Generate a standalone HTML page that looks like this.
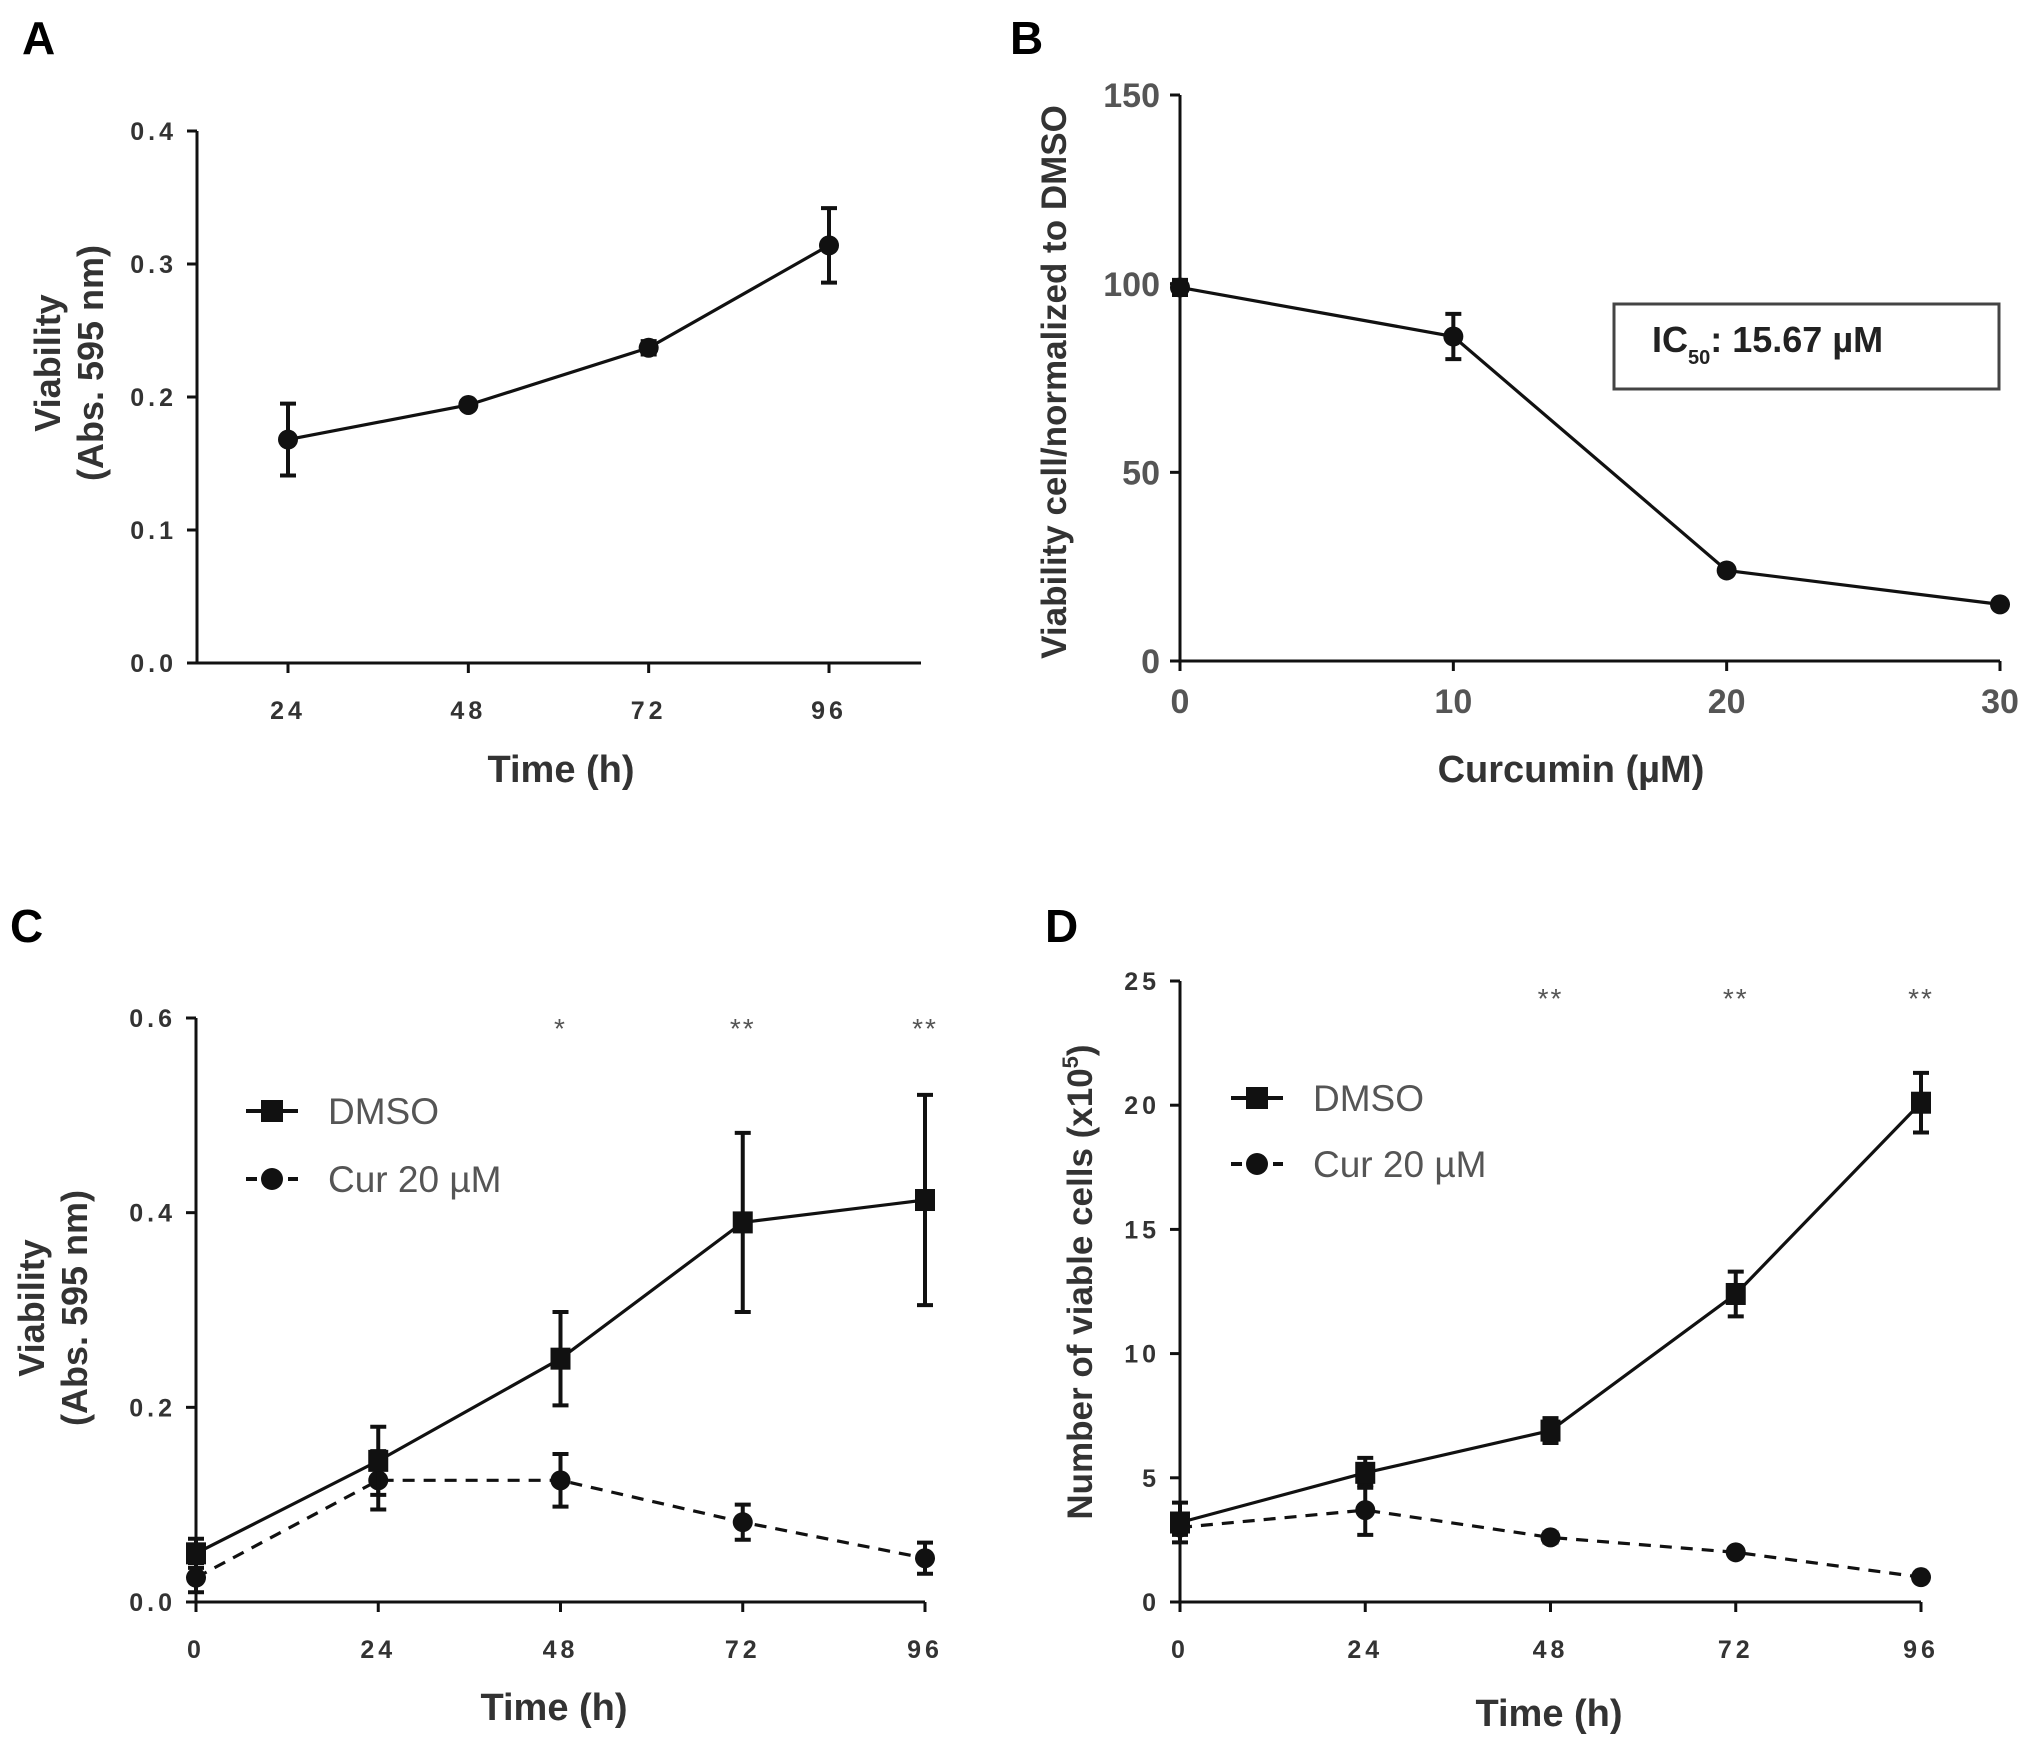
<!DOCTYPE html>
<html><head><meta charset="utf-8"><style>
html,body{margin:0;padding:0;background:#fff;}
svg{display:block;font-family:"Liberation Sans",Arial,sans-serif;}
</style></head><body>
<svg id="fig" width="2031" height="1749" viewBox="0 0 2031 1749" xmlns="http://www.w3.org/2000/svg">
<rect width="2031" height="1749" fill="#fff"/>
<text x="22" y="54" font-size="46" font-weight="bold">A</text>
<text x="1010" y="54" font-size="46" font-weight="bold">B</text>
<text x="10" y="942" font-size="46" font-weight="bold">C</text>
<text x="1045" y="942" font-size="46" font-weight="bold">D</text>
<g id="gA"></g>
<g id="gB"></g>
<g id="gC"></g>
<g id="gD"></g>
</svg>
<script>
// Panel A data
const aX = [24, 48, 72, 96];
const aY = [0.168, 0.194, 0.237, 0.314];
const aErr = [0.027, 0.003, 0.005, 0.028];
const aYTicks = ["0.0", "0.1", "0.2", "0.3", "0.4"];
const aXTicks = ["24", "48", "72", "96"];
// Panel B data
const bX = [0, 10, 20, 30];
const bY = [99, 86, 24, 15];
const bErr = [2, 6, 1, 1];
const bYTicks = ["0", "50", "100", "150"];
const bXTicks = ["0", "10", "20", "30"];
// Panel C data
const cX = [0, 24, 48, 72, 96];
const cDmso = [0.05, 0.145, 0.25, 0.39, 0.413];
const cDmsoErr = [0.015, 0.035, 0.048, 0.092, 0.108];
const cCur = [0.025, 0.125, 0.125, 0.082, 0.045];
const cCurErr = [0.015, 0.03, 0.027, 0.018, 0.016];
const cYTicks = ["0.0", "0.2", "0.4", "0.6"];
const cXTicks = ["0", "24", "48", "72", "96"];
const cStars = ["", "", "*", "**", "**"];
// Panel D data
const dX = [0, 24, 48, 72, 96];
const dDmso = [3.2, 5.2, 6.9, 12.4, 20.1];
const dDmsoErr = [0.8, 0.6, 0.5, 0.9, 1.2];
const dCur = [3.0, 3.7, 2.6, 2.0, 1.0];
const dCurErr = [0.3, 1.0, 0.2, 0.15, 0.15];
const dYTicks = ["0", "5", "10", "15", "20", "25"];
const dXTicks = ["0", "24", "48", "72", "96"];
const dStars = ["", "", "**", "**", "**"];

const NS = "http://www.w3.org/2000/svg";
function el(parent, tag, attrs, txt){
  const e = document.createElementNS(NS, tag);
  for (const k in attrs) e.setAttribute(k, attrs[k]);
  if (txt !== undefined) e.textContent = txt;
  parent.appendChild(e);
  return e;
}
function scale(d0, d1, r0, r1){ return v => r0 + (v - d0) / (d1 - d0) * (r1 - r0); }

function axes(g, sx, sy, ax, ay0, ay1, axEnd, yTicks, xTicks, tickStyle){
  let a = el(g, "line", {x1: ax, y1: sy(ay1), x2: ax, y2: sy(ay0), stroke: "#111", "stroke-width": 3});
  
  
  a = el(g, "line", {x1: ax - 10, y1: sy(ay0), x2: axEnd, y2: sy(ay0), stroke: "#111", "stroke-width": 3});
  
  
  yTicks.forEach(t => {
    const y = sy(parseFloat(t));
    const tk = el(g, "line", {x1: ax - 10, y1: y, x2: ax, y2: y, stroke: "#111", "stroke-width": 3});
    
    
    const lb = el(g, "text", Object.assign({x: ax - 20, y: y + tickStyle.size * 0.36, "text-anchor": "end"}, tickStyle.attrs), t);
    
    
  });
  xTicks.forEach(t => {
    const x = sx(parseFloat(t));
    const tk = el(g, "line", {x1: x, y1: sy(ay0), x2: x, y2: sy(ay0) + 10, stroke: "#111", "stroke-width": 3});
    
    
    const lb = el(g, "text", Object.assign({x: x, y: sy(ay0) + tickStyle.xoff, "text-anchor": "middle"}, tickStyle.attrs), t);
    
    
  });
}
function series(g, sx, sy, xs, ys, errs, marker, dashed, name){
  const pts = xs.map((x, i) => sx(x) + "," + sy(ys[i])).join(" ");
  const pl = el(g, "polyline", {points: pts, fill: "none", stroke: "#111", "stroke-width": 3.2, "stroke-dasharray": dashed ? "12,9" : "none"});
  
  
  xs.forEach((x, i) => {
    const cx = sx(x), lo = sy(ys[i] - errs[i]), hi = sy(ys[i] + errs[i]);
    const eb = el(g, "path", {d: `M${cx},${lo}V${hi}M${cx-8},${lo}H${cx+8}M${cx-8},${hi}H${cx+8}`, stroke: "#111", "stroke-width": 4, fill: "none"});
    
    
    let m;
    if (marker === "square") m = el(g, "rect", {x: cx - 10, y: sy(ys[i]) - 11, width: 20, height: 22, fill: "#111"});
    else m = el(g, "circle", {cx: cx, cy: sy(ys[i]), r: 10, fill: "#111"});
    
    
  });
}
function ytitle(g, x, y, lines, size, fill){
  lines.forEach((ln, i) => {
    const t = el(g, "text", {x: 0, y: 0, transform: `translate(${x + i * size * 1.2},${y}) rotate(-90)`, "text-anchor": "middle", "font-size": size, "font-weight": "bold", fill: fill || "#333"}, ln);
    
    
  });
}
function xtitle(g, x, y, txt, size, fill){
  const t = el(g, "text", {x: x, y: y, "text-anchor": "middle", "font-size": size, "font-weight": "bold", fill: fill || "#333"}, txt);
  
  
}
function legend(g, x, y1, y2, size){
  let l = el(g, "line", {x1: x, y1: y1, x2: x + 52, y2: y1, stroke: "#111", "stroke-width": 4});
   
  l = el(g, "rect", {x: x + 15, y: y1 - 11, width: 22, height: 22, fill: "#111"});
   
  l = el(g, "text", {x: x + 82, y: y1 + 13, "font-size": size, fill: "#555"}, "DMSO");
   
  l = el(g, "line", {x1: x, y1: y2, x2: x + 52, y2: y2, stroke: "#111", "stroke-width": 4, "stroke-dasharray": "11,10"});
   
  l = el(g, "circle", {cx: x + 26, cy: y2, r: 11, fill: "#111"});
   
  l = el(g, "text", {x: x + 82, y: y2 + 13, "font-size": size, fill: "#555"}, "Cur 20 µM");
   
}
function stars(g, sx, y, xs, st){
  xs.forEach((x, i) => {
    if (!st[i]) return;
    const t = el(g, "text", {x: sx(x), y: y, "text-anchor": "middle", "font-size": 28, fill: "#555", "letter-spacing": 2}, st[i]);
    
    
  });
}
const condensed = {size: 25, xoff: 56, attrs: {"font-size": 25, "font-weight": "bold", fill: "#333", "letter-spacing": 4}};

// Panel A
(function(){
  const g = document.getElementById("gA");
  const sx = scale(24, 96, 288, 829), sy = scale(0, 0.4, 663, 131);
  axes(g, sx, sy, 197, 0, 0.4, 921, aYTicks, aXTicks, condensed);
  series(g, sx, sy, aX, aY, aErr, "circle", false, "viability");
  xtitle(g, 561, 782, "Time (h)", 38);
  ytitle(g, 60, 363, ["Viability", "(Abs. 595 nm)"], 36);
})();
// Panel B
(function(){
  const g = document.getElementById("gB");
  const sx = scale(0, 30, 1180, 2000), sy = scale(0, 150, 661, 95);
  axes(g, sx, sy, 1180, 0, 150, 2000, bYTicks, bXTicks, {size: 34, xoff: 52, attrs: {"font-size": 34, "font-weight": "bold", fill: "#555"}});
  series(g, sx, sy, bX, bY, bErr, "circle", false, "viability");
  xtitle(g, 1571, 782, "Curcumin (µM)", 38);
  ytitle(g, 1066, 382, ["Viability cell/normalized to DMSO"], 35);
  const box = el(g, "rect", {x: 1614, y: 304, width: 385, height: 85, fill: "#fff", stroke: "#444", "stroke-width": 3});
   
  const t = el(g, "text", {x: 1652, y: 352, "font-size": 36, "font-weight": "bold", fill: "#222"});
   
  t.innerHTML = 'IC<tspan font-size="20" dy="12">50</tspan><tspan dy="-12">: 15.67 µM</tspan>';
})();
// Panel C
(function(){
  const g = document.getElementById("gC");
  const sx = scale(0, 96, 196, 925), sy = scale(0, 0.6, 1602, 1018);
  axes(g, sx, sy, 196, 0, 0.6, 925, cYTicks, cXTicks, condensed);
  series(g, sx, sy, cX, cCur, cCurErr, "circle", true, "cur-20um");
  series(g, sx, sy, cX, cDmso, cDmsoErr, "square", false, "dmso");
  stars(g, sx, 1038, cX, cStars);
  legend(g, 246, 1111, 1179, 37);
  xtitle(g, 554, 1720, "Time (h)", 38);
  ytitle(g, 44, 1308, ["Viability", "(Abs. 595 nm)"], 36);
})();
// Panel D
(function(){
  const g = document.getElementById("gD");
  const sx = scale(0, 96, 1180, 1921), sy = scale(0, 25, 1602, 981);
  axes(g, sx, sy, 1180, 0, 25, 1921, dYTicks, dXTicks, condensed);
  series(g, sx, sy, dX, dCur, dCurErr, "circle", true, "cur-20um");
  series(g, sx, sy, dX, dDmso, dDmsoErr, "square", false, "dmso");
  stars(g, sx, 1008, dX, dStars);
  legend(g, 1231, 1098, 1164, 37);
  xtitle(g, 1549, 1726, "Time (h)", 38);
  const t = el(g, "text", {x: 0, y: 0, transform: "translate(1092,1282) rotate(-90)", "text-anchor": "middle", "font-size": 35, "font-weight": "bold", fill: "#333"});
   
  t.innerHTML = 'Number of viable cells (x10<tspan font-size="22" dy="-14">5</tspan><tspan dy="14">)</tspan>';
})();
</script>
</body></html>
